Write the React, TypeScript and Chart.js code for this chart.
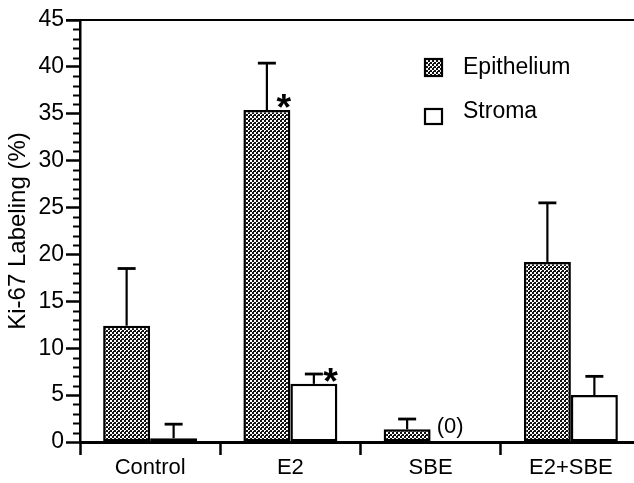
import { useEffect, useRef } from "react";
import { Chart, registerables } from "chart.js";

Chart.register(...registerables);

const categories = ["Control", "E2", "SBE", "E2+SBE"];
const seriesNames = ["Epithelium", "Stroma"];
const epithelium = [12.4, 35.4, 1.35, 19.2];
const epitheliumSD = [6.1, 5.0, 1.1, 6.3];
const stroma = [0.4, 6.2, 0, 5.0];
const stromaSD = [1.5, 1.05, 0, 2.0];
const epitheliumStar = [false, true, false, false];
const stromaStar = [false, true, false, false];
const stromaNote = ["", "", "(0)", ""];
const yTitle = "Ki-67 Labeling (%)";
const yMin = 0;
const yMax = 45;
const yMajorStep = 5;
const yMinorStep = 1;

const FONT = "'Liberation Sans', Arial, Helvetica, sans-serif";

function makePattern(): CanvasPattern | string {
  const c = document.createElement("canvas");
  c.width = 4;
  c.height = 4;
  const g = c.getContext("2d");
  if (!g) return "#777";
  g.fillStyle = "#ffffff";
  g.fillRect(0, 0, 4, 4);
  g.fillStyle = "#111111";
  g.fillRect(0, 0, 2, 2);
  g.fillRect(2, 2, 2, 2);
  g.fillRect(1, 3, 1, 1);
  const p = g.createPattern(c, "repeat");
  return p || "#777";
}

function drawStar(ctx: CanvasRenderingContext2D, cx: number, cy: number, h: number) {
  ctx.save();
  ctx.font = `bold 40px ${FONT}`;
  const m = ctx.measureText("*");
  const mh = m.actualBoundingBoxAscent + m.actualBoundingBoxDescent;
  const size = (40 * h) / (mh || 1);
  ctx.font = `bold ${size}px ${FONT}`;
  const m2 = ctx.measureText("*");
  const w = m2.actualBoundingBoxLeft + m2.actualBoundingBoxRight;
  const asc = m2.actualBoundingBoxAscent;
  const desc = m2.actualBoundingBoxDescent;
  ctx.fillStyle = "#000";
  ctx.textBaseline = "alphabetic";
  ctx.textAlign = "left";
  const x = cx - w / 2 + m2.actualBoundingBoxLeft;
  const y = cy + (asc - desc) / 2;
  ctx.fillText("*", x, y);
  ctx.restore();
}

export default function App() {
  const ref = useRef<HTMLCanvasElement | null>(null);

  useEffect(() => {
    const canvas = ref.current;
    if (!canvas) return;
    const pattern = makePattern();

    const extras = {
      id: "extras",
      afterDatasetsDraw(chart: any) {
        const ctx = chart.ctx as CanvasRenderingContext2D;
        const y = chart.scales.y;
        const area = chart.chartArea;
        const sdSets = [epitheliumSD, stromaSD];
        const starSets = [epitheliumStar, stromaStar];
        chart.data.datasets.forEach((ds: any, di: number) => {
          const meta = chart.getDatasetMeta(di);
          meta.data.forEach((bar: any, i: number) => {
            const sd = sdSets[di][i];
            const v = ds.data[i] as number;
            if (sd) {
              const topPx = y.getPixelForValue(v + sd);
              ctx.save();
              ctx.strokeStyle = "#000";
              ctx.lineWidth = 2.2;
              ctx.beginPath();
              ctx.moveTo(bar.x, bar.y);
              ctx.lineTo(bar.x, topPx);
              ctx.stroke();
              ctx.lineWidth = 2.8;
              ctx.beginPath();
              ctx.moveTo(bar.x - 9, topPx);
              ctx.lineTo(bar.x + 9, topPx);
              ctx.stroke();
              ctx.restore();
            }
            if (starSets[di][i]) {
              drawStar(ctx, bar.x + 17, bar.y - 9, 15);
            }
            if (di === 1 && stromaNote[i]) {
              ctx.save();
              ctx.fillStyle = "#000";
              ctx.font = `22px ${FONT}`;
              ctx.textAlign = "center";
              ctx.textBaseline = "alphabetic";
              ctx.fillText(stromaNote[i], bar.x - 4, y.getPixelForValue(0) - 9);
              ctx.restore();
            }
          });
        });
        // minor ticks on y axis
        ctx.save();
        ctx.strokeStyle = "#000";
        ctx.lineWidth = 2;
        for (let v = yMin; v <= yMax; v += yMinorStep) {
          if (v % yMajorStep === 0) continue;
          const py = Math.round(y.getPixelForValue(v)) + 0.5;
          ctx.beginPath();
          ctx.moveTo(area.left - 7, py);
          ctx.lineTo(area.left, py);
          ctx.stroke();
        }
        // top line
        const ty = y.getPixelForValue(yMax);
        ctx.lineWidth = 2;
        ctx.beginPath();
        ctx.moveTo(area.left - 14, ty);
        ctx.lineTo(chart.width, ty);
        ctx.stroke();
        ctx.restore();

        // legend
        ctx.save();
        const lx = area.left + 344;
        const boxes = [
          { y: area.top + 38, h: 19, fill: pattern },
          { y: area.top + 88, h: 17, fill: "#ffffff" },
        ];
        const textBase = [area.top + 54, area.top + 98];
        boxes.forEach((b, i) => {
          ctx.fillStyle = b.fill as any;
          ctx.fillRect(lx, b.y, 19, b.h);
          ctx.strokeStyle = "#000";
          ctx.lineWidth = 2.2;
          ctx.strokeRect(lx + 1, b.y + 1, 17, b.h - 2);
          ctx.fillStyle = "#000";
          ctx.font = `23px ${FONT}`;
          ctx.textAlign = "left";
          ctx.textBaseline = "alphabetic";
          ctx.fillText(seriesNames[i], lx + 39, textBase[i]);
        });
        ctx.restore();
      },
    };

    const chart = new Chart(canvas, {
      type: "bar",
      data: {
        labels: categories,
        datasets: [
          {
            label: seriesNames[0],
            data: epithelium,
            backgroundColor: pattern as any,
            borderColor: "#000",
            borderWidth: 2.5,
            borderSkipped: false,
            categoryPercentage: 0.67,
            barPercentage: 1.0,
          },
          {
            label: seriesNames[1],
            data: stroma,
            backgroundColor: "#ffffff",
            borderColor: "#000",
            borderWidth: 2.5,
            borderSkipped: false,
            categoryPercentage: 0.67,
            barPercentage: 1.0,
          },
        ],
      },
      options: {
        responsive: false,
        animation: false,
        devicePixelRatio: 1,
        layout: { padding: { left: 0, right: 19, top: 20, bottom: 0 } },
        plugins: {
          legend: { display: false },
          tooltip: { enabled: false },
        },
        scales: {
          x: {
            type: "category",
            offset: true,
            grid: {
              display: true,
              offset: true,
              drawOnChartArea: false,
              drawTicks: true,
              tickLength: 13,
              tickWidth: 2.5,
              tickColor: "#000",
            },
            border: { display: true, color: "#000", width: 3 },
            ticks: {
              color: "#000",
              font: { family: FONT, size: 22 },
              padding: 0,
              maxRotation: 0,
              autoSkip: false,
            },
            afterFit: (s: any) => {
              s.height = 41;
            },
          },
          y: {
            min: yMin,
            max: yMax,
            ticks: {
              stepSize: yMajorStep,
              color: "#000",
              font: { family: FONT, size: 23 },
              padding: 2,
            },
            grid: {
              drawOnChartArea: false,
              drawTicks: true,
              tickLength: 14,
              tickWidth: 2.5,
              tickColor: "#000",
            },
            border: { display: true, color: "#000", width: 2.5 },
            title: {
              display: true,
              text: yTitle,
              color: "#000",
              font: { family: FONT, size: 24 },
              padding: { top: 4, bottom: 0 },
            },
            afterFit: (s: any) => {
              s.width = 80;
            },
          },
        },
      },
      plugins: [extras],
    });

    return () => chart.destroy();
  }, []);

  return (
    <div
      style={{
        position: "fixed",
        left: 0,
        top: 0,
        width: 634,
        height: 483,
        overflow: "hidden",
        background: "#fff",
      }}
    >
      <canvas ref={ref} width={660} height={483} style={{ display: "block" }} />
    </div>
  );
}
